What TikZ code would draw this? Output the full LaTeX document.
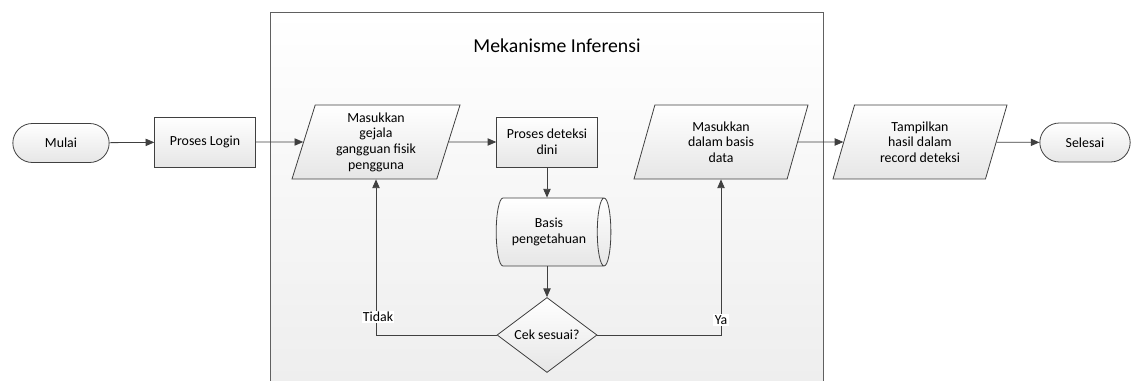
\documentclass[tikz,border=0pt]{standalone}
\usepackage{fontspec}
\setmainfont{Carlito}
\usetikzlibrary{shapes.geometric,shapes.misc,arrows.meta}
\definecolor{edgec}{HTML}{404040}
\definecolor{boxbot}{HTML}{E6E6E6}
\definecolor{contbot}{HTML}{EEEEEE}
\tikzset{
  base/.style={draw=edgec, line width=0.6pt, top color=white, bottom color=boxbot, align=center, inner sep=1pt, font=\fontsize{10.4}{11.7}\selectfont},
  termbox/.style={base, rounded rectangle, minimum width=74.25pt, minimum height=29.25pt},
  procbox/.style={base, rectangle, minimum width=75.5pt, minimum height=37.5pt},
  databox/.style={base, trapezium, trapezium stretches body=true, minimum height=55.5pt},
  storebox/.style={base, cylinder, shape border rotate=0, aspect=0.45, minimum width=51pt, minimum height=86pt},
  decbox/.style={base, diamond, minimum width=75pt, minimum height=56.25pt, aspect=1.33},
  flow/.style={draw=edgec, line width=0.6pt, -{Triangle[length=6.5pt,width=5.5pt]}},
  lbl/.style={fill=white, inner sep=1pt, font=\fontsize{10.4}{11.7}\selectfont}
}
\begin{document}
\begin{tikzpicture}[x=0.75pt,y=-0.75pt]
\useasboundingbox (0,0) rectangle (1132,381);
% container
\shade[top color=white, bottom color=contbot] (270,12) rectangle (823,381);
\draw[draw=gray!75!black, line width=0.6pt] (270,390) -- (270,12) -- (823,12) -- (823,390);
\node[font=\fontsize{14.8}{16}\selectfont] (title) at (557,46) {Mekanisme Inferensi};
% nodes
\node[termbox] (mulai) at (61,143) {Mulai};
\node[procbox] (login) at (205,142) {Proses Login};
\node[databox, trapezium left angle=69.3, trapezium right angle=110.7, minimum width=126pt] (p1) at (376,142) {Masukkan\\gejala\\gangguan fisik\\pengguna};
\node[procbox] (det) at (547,142) {Proses deteksi\\dini};
\node[storebox] (cyl) at (549,232) {Basis\\pengetahuan};
\node[decbox] (dia) at (547,335) {Cek sesuai?};
\node[databox, trapezium left angle=64.4, trapezium right angle=115.6, minimum width=130.5pt] (p2) at (721,142) {Masukkan\\dalam basis\\data};
\node[databox, trapezium left angle=63.7, trapezium right angle=116.3, minimum width=130.5pt] (p3) at (920,142) {Tampilkan\\hasil dalam\\record deteksi};
\node[termbox, minimum width=69.75pt] (sel) at (1085,142.5) {Selesai};
% connectors
\draw[flow] (mulai) -- (login);
\draw[flow] (login) -- (p1);
\draw[flow] (p1) -- (det);
\draw[flow] (det) -- (det |- cyl.north);
\draw[flow] (det |- cyl.south) -- (dia);
\draw[flow] (dia.west) -| (p1.south);
\draw[flow] (dia.east) -| (p2.south);
\draw[flow] (p2) -- (p3);
\draw[flow] (p3) -- (sel);
\node[lbl] (tidak) at (378,317) {Tidak};
\node[lbl] (ya) at (721,320) {Ya};
\end{tikzpicture}
\end{document}
